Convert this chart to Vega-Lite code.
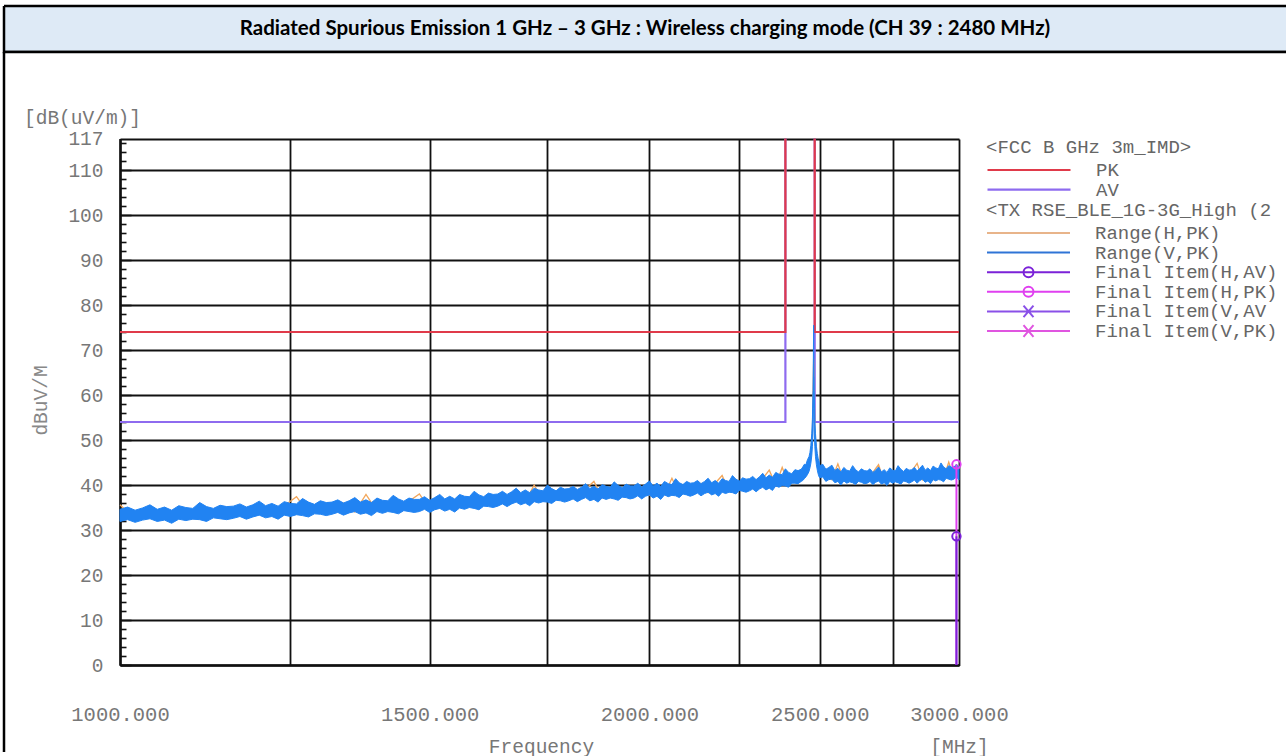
{
  "$schema": "https://vega.github.io/schema/vega-lite/v6.json",
  "padding": {"left": 2, "top": 4, "right": 0, "bottom": 0},
  "background": "white",
  "spacing": 0,
  "bounds": "flush",
  "config": {"concat": {"spacing": 0}},
  "datasets": {
    "limits": [
      {"lim": "AV", "seg": "AV1", "i": 0, "f": 1000, "v": 54},
      {"lim": "AV", "seg": "AV1", "i": 1, "f": 2390, "v": 54},
      {"lim": "AV", "seg": "AV1", "i": 2, "f": 2390, "v": 117},
      {"lim": "AV", "seg": "AV2", "i": 0, "f": 2483.5, "v": 117},
      {"lim": "AV", "seg": "AV2", "i": 1, "f": 2483.5, "v": 54},
      {"lim": "AV", "seg": "AV2", "i": 2, "f": 3000, "v": 54},
      {"lim": "PK", "seg": "PK1", "i": 0, "f": 1000, "v": 74},
      {"lim": "PK", "seg": "PK1", "i": 1, "f": 2390, "v": 74},
      {"lim": "PK", "seg": "PK1", "i": 2, "f": 2390, "v": 117},
      {"lim": "PK", "seg": "PK2", "i": 0, "f": 2483.5, "v": 117},
      {"lim": "PK", "seg": "PK2", "i": 1, "f": 2483.5, "v": 74},
      {"lim": "PK", "seg": "PK2", "i": 2, "f": 3000, "v": 74}
    ],
    "final": [
      {"item": "Final Item(H,PK)", "f": 2990, "v": 44.6},
      {"item": "Final Item(H,AV)", "f": 2990, "v": 28.6}
    ],
    "hpk": [
      {"f":1000,"h":35.6},{"f":1020,"h":32.4},{"f":1040,"h":34.4},{"f":1060,"h":32.5},{"f":1080,"h":34.5},
      {"f":1100,"h":32.6},{"f":1120,"h":34.7},{"f":1140,"h":32.8},{"f":1160,"h":35.0},{"f":1180,"h":33.1},
      {"f":1200,"h":35.2},{"f":1220,"h":33.3},{"f":1240,"h":35.4},{"f":1260,"h":37.4},{"f":1280,"h":33.7},
      {"f":1300,"h":35.8},{"f":1320,"h":33.9},{"f":1340,"h":36.0},{"f":1360,"h":34.0},{"f":1380,"h":37.9},
      {"f":1400,"h":34.2},{"f":1420,"h":36.3},{"f":1440,"h":34.4},{"f":1460,"h":36.4},{"f":1480,"h":38.0},
      {"f":1500,"h":34.6},{"f":1520,"h":36.7},{"f":1540,"h":34.9},{"f":1560,"h":37.0},{"f":1580,"h":35.2},
      {"f":1600,"h":37.3},{"f":1620,"h":35.5},{"f":1640,"h":37.7},{"f":1660,"h":35.9},{"f":1680,"h":38.1},
      {"f":1700,"h":36.3},{"f":1720,"h":40.0},{"f":1740,"h":36.5},{"f":1760,"h":38.7},{"f":1780,"h":36.8},
      {"f":1800,"h":38.9},{"f":1820,"h":37.0},{"f":1840,"h":39.1},{"f":1860,"h":40.8},{"f":1880,"h":37.2},
      {"f":1900,"h":39.3},{"f":1920,"h":37.4},{"f":1940,"h":39.5},{"f":1960,"h":37.5},{"f":1980,"h":39.6},
      {"f":2000,"h":37.7},{"f":2020,"h":39.8},{"f":2040,"h":37.9},{"f":2060,"h":41.5},{"f":2080,"h":38.0},
      {"f":2100,"h":40.1},{"f":2120,"h":38.2},{"f":2140,"h":40.3},{"f":2160,"h":38.3},{"f":2180,"h":40.4},
      {"f":2200,"h":42.1},{"f":2220,"h":38.6},{"f":2240,"h":40.8},{"f":2260,"h":38.9},{"f":2280,"h":41.1},
      {"f":2300,"h":39.2},{"f":2320,"h":41.4},{"f":2340,"h":43.3},{"f":2360,"h":39.9},{"f":2380,"h":43.9},
      {"f":2400,"h":40.3},{"f":2420,"h":42.7},{"f":2440,"h":41.2},{"f":2460,"h":44.7},{"f":2470,"h":45.8},
      {"f":2476,"h":52},{"f":2480,"h":68},{"f":2484,"h":52},{"f":2490,"h":46},
      {"f":2500,"h":42.0},{"f":2520,"h":43.5},{"f":2540,"h":41.2},{"f":2560,"h":44.7},{"f":2580,"h":41.0},
      {"f":2600,"h":42.9},{"f":2620,"h":40.9},{"f":2640,"h":42.9},{"f":2660,"h":40.8},{"f":2680,"h":42.8},
      {"f":2700,"h":44.5},{"f":2720,"h":40.8},{"f":2740,"h":42.9},{"f":2760,"h":40.9},{"f":2780,"h":43.0},
      {"f":2800,"h":41.0},{"f":2820,"h":43.1},{"f":2840,"h":44.8},{"f":2860,"h":41.2},{"f":2880,"h":43.2},
      {"f":2900,"h":41.3},{"f":2920,"h":43.4},{"f":2940,"h":41.5},{"f":2960,"h":45.1},{"f":2980,"h":41.7},
      {"f":3000,"h":43.8}
    ],
    "vpk": [
      {"f":1000,"lo":31.9,"hi":34.6},{"f":1010,"lo":32.3,"hi":35.1},{"f":1020,"lo":31.7,"hi":34.4},{"f":1030,"lo":32.2,"hi":34.9},
      {"f":1040,"lo":32.5,"hi":35.6},{"f":1050,"lo":31.9,"hi":34.6},{"f":1060,"lo":32.2,"hi":35.1},{"f":1070,"lo":31.5,"hi":34.4},
      {"f":1080,"lo":32.4,"hi":35.4},{"f":1090,"lo":32.1,"hi":35.0},{"f":1100,"lo":32.4,"hi":34.8},{"f":1110,"lo":32.3,"hi":36.1},
      {"f":1120,"lo":31.9,"hi":35.2},{"f":1130,"lo":32.7,"hi":34.8},{"f":1140,"lo":32.5,"hi":35.5},{"f":1150,"lo":32.3,"hi":35.2},
      {"f":1160,"lo":32.6,"hi":35.3},{"f":1170,"lo":33.0,"hi":35.8},{"f":1180,"lo":32.4,"hi":35.1},{"f":1190,"lo":32.9,"hi":35.6},
      {"f":1200,"lo":33.3,"hi":36.4},{"f":1210,"lo":32.7,"hi":35.4},{"f":1220,"lo":33.0,"hi":35.9},{"f":1230,"lo":32.4,"hi":35.3},
      {"f":1240,"lo":33.3,"hi":36.3},{"f":1250,"lo":33.0,"hi":35.9},{"f":1260,"lo":33.4,"hi":35.8},{"f":1270,"lo":33.2,"hi":37.0},
      {"f":1280,"lo":32.9,"hi":36.2},{"f":1290,"lo":33.6,"hi":35.7},{"f":1300,"lo":33.5,"hi":36.5},{"f":1310,"lo":33.2,"hi":36.1},
      {"f":1320,"lo":33.5,"hi":36.2},{"f":1330,"lo":33.9,"hi":36.7},{"f":1340,"lo":33.3,"hi":36.0},{"f":1350,"lo":33.8,"hi":36.5},
      {"f":1360,"lo":34.1,"hi":37.2},{"f":1370,"lo":33.5,"hi":36.2},{"f":1380,"lo":33.8,"hi":36.7},{"f":1390,"lo":33.2,"hi":36.1},
      {"f":1400,"lo":34.1,"hi":37.1},{"f":1410,"lo":33.7,"hi":36.6},{"f":1420,"lo":34.1,"hi":36.5},{"f":1430,"lo":33.9,"hi":37.7},
      {"f":1440,"lo":33.6,"hi":36.9},{"f":1450,"lo":34.3,"hi":36.4},{"f":1460,"lo":34.1,"hi":37.1},{"f":1470,"lo":33.9,"hi":36.8},
      {"f":1480,"lo":34.1,"hi":36.8},{"f":1490,"lo":34.6,"hi":37.4},{"f":1500,"lo":33.9,"hi":36.6},{"f":1510,"lo":34.5,"hi":37.2},
      {"f":1520,"lo":34.8,"hi":37.9},{"f":1530,"lo":34.2,"hi":36.9},{"f":1540,"lo":34.6,"hi":37.5},{"f":1550,"lo":34.0,"hi":36.9},
      {"f":1560,"lo":34.9,"hi":37.9},{"f":1570,"lo":34.6,"hi":37.5},{"f":1580,"lo":35.0,"hi":37.4},{"f":1590,"lo":34.8,"hi":38.6},
      {"f":1600,"lo":34.5,"hi":37.8},{"f":1610,"lo":35.3,"hi":37.4},{"f":1620,"lo":35.2,"hi":38.2},{"f":1630,"lo":35.0,"hi":37.9},
      {"f":1640,"lo":35.3,"hi":38.0},{"f":1650,"lo":35.8,"hi":38.6},{"f":1660,"lo":35.2,"hi":37.9},{"f":1670,"lo":35.8,"hi":38.5},
      {"f":1680,"lo":36.2,"hi":39.3},{"f":1690,"lo":35.6,"hi":38.3},{"f":1700,"lo":36.0,"hi":38.9},{"f":1710,"lo":35.4,"hi":38.3},
      {"f":1720,"lo":36.3,"hi":39.3},{"f":1730,"lo":36.0,"hi":38.9},{"f":1740,"lo":36.3,"hi":38.7},{"f":1750,"lo":36.2,"hi":40.0},
      {"f":1760,"lo":35.9,"hi":39.2},{"f":1770,"lo":36.6,"hi":38.7},{"f":1780,"lo":36.5,"hi":39.5},{"f":1790,"lo":36.2,"hi":39.1},
      {"f":1800,"lo":36.5,"hi":39.2},{"f":1810,"lo":36.9,"hi":39.7},{"f":1820,"lo":36.3,"hi":39.0},{"f":1830,"lo":36.8,"hi":39.5},
      {"f":1840,"lo":37.2,"hi":40.3},{"f":1850,"lo":36.5,"hi":39.2},{"f":1860,"lo":36.8,"hi":39.7},{"f":1870,"lo":36.2,"hi":39.1},
      {"f":1880,"lo":37.1,"hi":40.1},{"f":1890,"lo":36.8,"hi":39.7},{"f":1900,"lo":37.1,"hi":39.5},{"f":1910,"lo":36.9,"hi":40.7},
      {"f":1920,"lo":36.6,"hi":39.9},{"f":1930,"lo":37.3,"hi":39.4},{"f":1940,"lo":37.2,"hi":40.2},{"f":1950,"lo":36.9,"hi":39.8},
      {"f":1960,"lo":37.1,"hi":39.8},{"f":1970,"lo":37.6,"hi":40.4},{"f":1980,"lo":36.9,"hi":39.6},{"f":1990,"lo":37.5,"hi":40.2},
      {"f":2000,"lo":37.8,"hi":40.9},{"f":2010,"lo":37.1,"hi":39.8},{"f":2020,"lo":37.5,"hi":40.4},{"f":2030,"lo":36.8,"hi":39.7},
      {"f":2040,"lo":37.8,"hi":40.8},{"f":2050,"lo":37.4,"hi":40.3},{"f":2060,"lo":37.7,"hi":40.1},{"f":2070,"lo":37.6,"hi":41.4},
      {"f":2080,"lo":37.2,"hi":40.5},{"f":2090,"lo":38.0,"hi":40.1},{"f":2100,"lo":37.8,"hi":40.8},{"f":2110,"lo":37.5,"hi":40.4},
      {"f":2120,"lo":37.8,"hi":40.5},{"f":2130,"lo":38.2,"hi":41.0},{"f":2140,"lo":37.6,"hi":40.3},{"f":2150,"lo":38.1,"hi":40.8},
      {"f":2160,"lo":38.4,"hi":41.5},{"f":2170,"lo":37.8,"hi":40.5},{"f":2180,"lo":38.1,"hi":41.0},{"f":2190,"lo":37.5,"hi":40.4},
      {"f":2200,"lo":38.4,"hi":41.4},{"f":2210,"lo":38.1,"hi":41.0},{"f":2220,"lo":38.4,"hi":40.8},{"f":2230,"lo":38.3,"hi":42.1},
      {"f":2240,"lo":38.0,"hi":41.3},{"f":2250,"lo":38.8,"hi":40.9},{"f":2260,"lo":38.6,"hi":41.6},{"f":2270,"lo":38.4,"hi":41.3},
      {"f":2280,"lo":38.7,"hi":41.4},{"f":2290,"lo":39.1,"hi":41.9},{"f":2300,"lo":38.5,"hi":41.2},{"f":2310,"lo":39.1,"hi":41.8},
      {"f":2320,"lo":39.5,"hi":42.6},{"f":2330,"lo":38.9,"hi":41.6},{"f":2340,"lo":39.3,"hi":42.2},{"f":2350,"lo":38.8,"hi":41.7},
      {"f":2360,"lo":39.8,"hi":42.8},{"f":2370,"lo":39.5,"hi":42.4},{"f":2380,"lo":39.9,"hi":42.3},{"f":2390,"lo":39.8,"hi":43.6},
      {"f":2400,"lo":39.5,"hi":42.8},{"f":2410,"lo":40.4,"hi":42.5},{"f":2420,"lo":40.4,"hi":43.4},{"f":2430,"lo":40.3,"hi":43.2},
      {"f":2440,"lo":40.8,"hi":43.5},{"f":2445,"lo":41.0,"hi":44.0},{"f":2450,"lo":41.4,"hi":44.6},{"f":2455,"lo":41.8,"hi":44.5},
      {"f":2460,"lo":42.3,"hi":45.6},{"f":2465,"lo":43.0,"hi":46.3},{"f":2468,"lo":43.8,"hi":47.2},{"f":2471,"lo":44.8,"hi":48.8},
      {"f":2474,"lo":46.5,"hi":51.5},{"f":2476,"lo":48.5,"hi":54.5},{"f":2478,"lo":52,"hi":61},{"f":2479,"lo":57,"hi":67},
      {"f":2480,"lo":64,"hi":75.5},{"f":2481,"lo":57,"hi":67},{"f":2482,"lo":52,"hi":61},{"f":2484,"lo":48.5,"hi":54.5},
      {"f":2486,"lo":46.3,"hi":51.5},{"f":2489,"lo":44.5,"hi":48.6},{"f":2492,"lo":43.3,"hi":47.0},{"f":2495,"lo":42.4,"hi":45.8},
      {"f":2498,"lo":41.8,"hi":45.2},
      {"f":2500,"lo":41.6,"hi":44.3},{"f":2510,"lo":41.8,"hi":44.6},{"f":2520,"lo":40.8,"hi":43.5},{"f":2530,"lo":41.2,"hi":43.9},
      {"f":2540,"lo":41.3,"hi":44.4},{"f":2550,"lo":40.5,"hi":43.2},{"f":2560,"lo":40.8,"hi":43.7},{"f":2570,"lo":40.0,"hi":42.9},
      {"f":2580,"lo":40.9,"hi":43.9},{"f":2590,"lo":40.4,"hi":43.3},{"f":2600,"lo":40.7,"hi":43.1},{"f":2610,"lo":40.5,"hi":44.3},
      {"f":2620,"lo":40.1,"hi":43.4},{"f":2630,"lo":40.8,"hi":42.9},{"f":2640,"lo":40.6,"hi":43.6},{"f":2650,"lo":40.3,"hi":43.2},
      {"f":2660,"lo":40.4,"hi":43.1},{"f":2670,"lo":40.8,"hi":43.6},{"f":2680,"lo":40.1,"hi":42.8},{"f":2690,"lo":40.6,"hi":43.3},
      {"f":2700,"lo":40.9,"hi":44.0},{"f":2710,"lo":40.2,"hi":42.9},{"f":2720,"lo":40.5,"hi":43.4},{"f":2730,"lo":39.9,"hi":42.8},
      {"f":2740,"lo":40.8,"hi":43.8},{"f":2750,"lo":40.4,"hi":43.3},{"f":2760,"lo":40.7,"hi":43.1},{"f":2770,"lo":40.5,"hi":44.3},
      {"f":2780,"lo":40.2,"hi":43.5},{"f":2790,"lo":40.9,"hi":43.0},{"f":2800,"lo":40.7,"hi":43.7},{"f":2810,"lo":40.4,"hi":43.3},
      {"f":2820,"lo":40.7,"hi":43.4},{"f":2830,"lo":41.1,"hi":43.9},{"f":2840,"lo":40.4,"hi":43.1},{"f":2850,"lo":41.0,"hi":43.7},
      {"f":2860,"lo":41.3,"hi":44.4},{"f":2870,"lo":40.6,"hi":43.3},{"f":2880,"lo":40.9,"hi":43.8},{"f":2890,"lo":40.3,"hi":43.2},
      {"f":2900,"lo":41.2,"hi":44.2},{"f":2910,"lo":40.9,"hi":43.8},{"f":2920,"lo":41.2,"hi":43.6},{"f":2930,"lo":41.1,"hi":44.9},
      {"f":2940,"lo":40.7,"hi":44.0},{"f":2950,"lo":41.5,"hi":43.6},{"f":2960,"lo":41.3,"hi":44.3},{"f":2970,"lo":41.1,"hi":44.0},
      {"f":2980,"lo":41.3,"hi":44.0},{"f":2990,"lo":41.8,"hi":44.6},{"f":3000,"lo":41.1,"hi":43.8}
    ]
  },
  "vconcat": [
    {
      "width": 1282,
      "height": 46,
      "view": {"fill": "#DEEAF6", "stroke": "#000000", "strokeWidth": 2.5, "strokeDash": [1282, 46, 1328, 0]},
      "data": {"values": [{"t": "Radiated Spurious Emission 1 GHz – 3 GHz : Wireless charging mode (CH 39 : 2480 MHz)"}]},
      "mark": {"type": "text", "font": "Lato", "fontWeight": "bold", "fontSize": 20.5, "color": "#000000", "align": "center", "baseline": "middle"},
      "encoding": {"text": {"field": "t", "type": "nominal"}}
    },
    {
      "width": 1282,
      "height": 700,
      "view": {"fill": "white", "stroke": "#000000", "strokeWidth": 2.5, "strokeDash": [1282, 1982, 700, 0]},
      "resolve": {
        "scale": {"color": "independent", "shape": "independent"},
        "axis": {"x": "independent", "y": "independent"}
      },
      "layer": [
        {
          "data": {"name": "limits"},
          "mark": {"type": "line", "strokeWidth": 2.2},
          "encoding": {
            "x": {
              "field": "f", "type": "quantitative",
              "scale": {"type": "log", "domain": [1000, 3000], "range": [116, 955], "nice": false},
              "axis": {
                "orient": "bottom", "offset": -87,
                "values": [1000, 1250, 1500, 1750, 2000, 2250, 2500, 2750, 3000],
                "labelExpr": "datum.value % 500 === 0 ? format(datum.value, '.3f') : ''",
                "grid": true, "gridColor": "#111111", "gridWidth": 1.8, "gridOpacity": 1,
                "ticks": false, "domain": true, "domainColor": "#111111", "domainWidth": 2.5,
                "labelFont": "Liberation Mono", "labelFontSize": 20.5, "labelColor": "#777777",
                "labelPadding": 49, "labelBaseline": "middle", "labelOverlap": false, "labelFlush": false, "labelBound": false,
                "title": "Frequency", "titleFont": "Liberation Mono", "titleFontSize": 19.5, "titleFontWeight": "normal",
                "titleColor": "#777777", "titleX": 537, "titleY": 81, "titleBaseline": "middle", "titleAlign": "center"
              }
            },
            "y": {
              "field": "v", "type": "quantitative",
              "scale": {"domain": [0, 117], "range": [613, 86.5], "nice": false, "zero": false},
              "axis": {
                "orient": "left", "offset": -116,
                "values": [0, 10, 20, 30, 40, 50, 60, 70, 80, 90, 100, 110, 117],
                "grid": true, "gridColor": "#111111", "gridWidth": 1.8, "gridOpacity": 1,
                "ticks": false, "domain": true, "domainColor": "#111111", "domainWidth": 2.5,
                "labelFont": "Liberation Mono", "labelFontSize": 19.5, "labelColor": "#777777",
                "labelPadding": 17, "labelOverlap": false, "labelFlush": false, "labelBound": false,
                "title": "dBuV/M", "titleFont": "Liberation Mono", "titleFontSize": 19.5, "titleFontWeight": "normal",
                "titleColor": "#888888", "titleAngle": -90, "titleX": -80, "titleY": 348, "titleAlign": "center", "titleBaseline": "middle"
              }
            },
            "color": {
              "field": "lim", "type": "nominal",
              "scale": {"domain": ["PK", "AV"], "range": ["#E03A4A", "#8E6BEF"]},
              "legend": {
                "title": "<FCC B GHz 3m_IMD>", "orient": "none", "legendX": 982, "legendY": 86,
                "symbolType": "stroke", "symbolSize": 6889, "symbolStrokeWidth": 2.2,
                "clipHeight": 18, "rowPadding": 0.6, "labelOffset": 24, "padding": 0,
                "labelFont": "Liberation Mono", "labelFontSize": 19, "labelColor": "#666666", "labelLimit": 400,
                "titleFont": "Liberation Mono", "titleFontSize": 19, "titleFontWeight": "normal", "titleColor": "#666666",
                "titleLimit": 400, "titlePadding": 4
              }
            },
            "detail": {"field": "seg", "type": "nominal"},
            "order": {"field": "i", "type": "quantitative"}
          }
        },
        {
          "data": {"name": "hpk"},
          "mark": {"type": "line", "color": "#F2A65A", "strokeWidth": 1.3},
          "encoding": {
            "x": {"field": "f", "type": "quantitative", "axis": null},
            "y": {"field": "h", "type": "quantitative", "axis": null}
          }
        },
        {
          "data": {"name": "vpk"},
          "mark": {"type": "area", "color": "#2183F2", "stroke": "#2183F2", "strokeWidth": 1, "opacity": 1},
          "encoding": {
            "x": {
              "field": "f", "type": "quantitative",
              "axis": {
                "orient": "bottom", "offset": -87, "grid": false, "ticks": false, "labels": false, "domain": false,
                "title": "[MHz]", "titleFont": "Liberation Mono", "titleFontSize": 19.5, "titleFontWeight": "normal",
                "titleColor": "#777777", "titleX": 955, "titleY": 81, "titleBaseline": "middle", "titleAlign": "center"
              }
            },
            "y": {
              "field": "lo", "type": "quantitative",
              "axis": {
                "orient": "left", "offset": -116, "grid": false, "labels": false, "domain": false,
                "values": [0,2,4,6,8,10,12,14,16,18,20,22,24,26,28,30,32,34,36,38,40,42,44,46,48,50,52,54,56,58,60,62,64,66,68,70,72,74,76,78,80,82,84,86,88,90,92,94,96,98,100,102,104,106,108,110,112,114,116],
                "ticks": true, "tickColor": "#111111", "tickWidth": 1.6,
                "tickSize": {"condition": {"test": "datum.value % 10 === 0", "value": -11}, "value": -6},
                "title": "[dB(uV/m)]", "titleFont": "Liberation Mono", "titleFontSize": 19.5, "titleFontWeight": "normal",
                "titleColor": "#777777", "titleAngle": 0, "titleX": -38, "titleY": 65, "titleAlign": "center", "titleBaseline": "middle"
              }
            },
            "y2": {"field": "hi"}
          }
        },
        {
          "data": {"name": "final"},
          "mark": {"type": "rule", "strokeWidth": 2},
          "encoding": {
            "x": {"field": "f", "type": "quantitative", "axis": null},
            "y": {"field": "v", "type": "quantitative", "axis": null},
            "y2": {"datum": 0},
            "color": {
              "field": "item", "type": "nominal",
              "scale": {"domain": ["Final Item(H,AV)", "Final Item(H,PK)"], "range": ["#7B22D8", "#E040F0"]},
              "legend": null
            }
          }
        },
        {
          "data": {"name": "final"},
          "mark": {"type": "point", "shape": "circle", "filled": false, "size": 70, "strokeWidth": 2, "opacity": 1},
          "encoding": {
            "x": {"field": "f", "type": "quantitative", "axis": null},
            "y": {"field": "v", "type": "quantitative", "axis": null},
            "color": {
              "field": "item", "type": "nominal",
              "scale": {"domain": ["Final Item(H,AV)", "Final Item(H,PK)"], "range": ["#7B22D8", "#E040F0"]},
              "legend": null
            }
          }
        },
        {
          "data": {"values": []},
          "mark": {"type": "point", "filled": false, "strokeWidth": 2, "opacity": 1},
          "encoding": {
            "color": {
              "field": "item", "type": "nominal",
              "scale": {
                "domain": ["Range(H,PK)", "Range(V,PK)", "Final Item(H,AV)", "Final Item(H,PK)", "Final Item(V,AV", "Final Item(V,PK)"],
                "range": ["#E8B48A", "#2F74D6", "#7B22D8", "#E040F0", "#8A50E8", "#E055E0"]
              },
              "legend": {
                "title": "<TX RSE_BLE_1G-3G_High (2", "orient": "none", "legendX": 982, "legendY": 149,
                "symbolSize": 6889, "symbolStrokeWidth": 2, "symbolFillColor": "transparent", "symbolOpacity": 1,
                "clipHeight": 18, "rowPadding": 0.6, "labelOffset": 24, "padding": 0,
                "labelFont": "Liberation Mono", "labelFontSize": 19, "labelColor": "#666666", "labelLimit": 400,
                "titleFont": "Liberation Mono", "titleFontSize": 19, "titleFontWeight": "normal", "titleColor": "#666666",
                "titleLimit": 400, "titlePadding": 4
              }
            },
            "shape": {
              "field": "item", "type": "nominal",
              "scale": {
                "domain": ["Range(H,PK)", "Range(V,PK)", "Final Item(H,AV)", "Final Item(H,PK)", "Final Item(V,AV", "Final Item(V,PK)"],
                "range": [
                  "M-1,0H1",
                  "M-1,0H1",
                  "M-1,0H1M-0.12,0A0.12,0.12,0,1,0,0.12,0A0.12,0.12,0,1,0,-0.12,0",
                  "M-1,0H1M-0.12,0A0.12,0.12,0,1,0,0.12,0A0.12,0.12,0,1,0,-0.12,0",
                  "M-1,0H1M-0.12,-0.14L0.12,0.14M-0.12,0.14L0.12,-0.14",
                  "M-1,0H1M-0.12,-0.14L0.12,0.14M-0.12,0.14L0.12,-0.14"
                ]
              },
              "legend": {
                "title": "<TX RSE_BLE_1G-3G_High (2", "orient": "none", "legendX": 982, "legendY": 149,
                "symbolSize": 6889, "symbolStrokeWidth": 2, "symbolFillColor": "transparent", "symbolOpacity": 1,
                "clipHeight": 18, "rowPadding": 0.6, "labelOffset": 24, "padding": 0,
                "labelFont": "Liberation Mono", "labelFontSize": 19, "labelColor": "#666666", "labelLimit": 400,
                "titleFont": "Liberation Mono", "titleFontSize": 19, "titleFontWeight": "normal", "titleColor": "#666666",
                "titleLimit": 400, "titlePadding": 4
              }
            }
          }
        }
      ]
    }
  ]
}
